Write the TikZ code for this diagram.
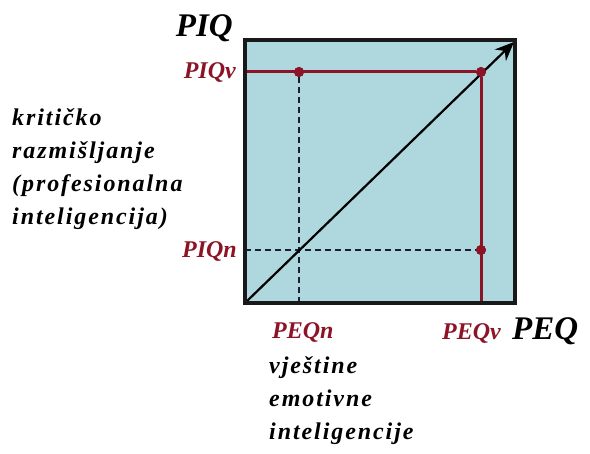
\documentclass[tikz,border=0pt]{standalone}
\usepackage{fontspec}
\setmainfont{Liberation Serif}
\newfontfamily\spacedfont[LetterSpace=8]{Liberation Serif}
\usetikzlibrary{positioning,arrows.meta}
\definecolor{tcyan}{RGB}{174,216,222}
\definecolor{tdarkred}{RGB}{140,20,38}
\definecolor{tnavy}{RGB}{30,30,50}

\begin{document}
\begin{tikzpicture}[
    x=1pt, y=-1pt,
    axislbl/.style={font=\fontsize{33}{33}\selectfont\bfseries\itshape, inner sep=0pt},
    vallbl/.style={font=\fontsize{24}{24}\selectfont\bfseries\itshape, text=tdarkred, inner sep=0pt},
    desc/.style={font=\spacedfont\fontsize{24}{33}\selectfont\bfseries\itshape, align=left, inner sep=0pt},
    level/.style={draw=tdarkred, line width=3pt},
    guide/.style={draw=tnavy, line width=1.8pt, dash pattern=on 6pt off 4pt},
    dot/.style={circle, fill=tdarkred, inner sep=0pt, minimum size=10pt},
]
\useasboundingbox (0,0) rectangle (590,454);

% ---------- plot area ----------
\coordinate (o)  at (245,303);
\coordinate (tr) at (515,40);
\fill[tcyan] (o) rectangle (tr);

\coordinate (nn) at (299,250);
\node[dot] (nv) at (299,72)  {};
\node[dot] (vv) at (481,72)  {};
\node[dot] (vn) at (481,250) {};
\coordinate (tip) at (514,42);

% levels (solid) and guides (dashed)
\draw[level] (o |- vv) -- (vv) -- (vv |- o);
\draw[guide] (nv) -- (nv |- o);
\draw[guide] (o |- vn) -- (vn);

% the diagonal
\draw[line width=2.2pt, -{Stealth[length=19pt,width=16pt]}] (o) -- (tip);

\node[dot] at (nv) {};
\node[dot] at (vv) {};
\node[dot] at (vn) {};
\draw[draw=black!90, line width=3.2pt] (o) rectangle (tr);

% ---------- axis labels ----------
\node[axislbl, anchor=base east] (piq) at (233,37)  {PIQ};
\node[axislbl, anchor=base west] (peq) at (512,340) {PEQ};

\node[vallbl, anchor=base east] (piqv) at (236,79)  {PIQv};
\node[vallbl, anchor=base east] (piqn) at (237,258) {PIQn};
\node[vallbl, anchor=base west] (peqn) at (272,339) {PEQn};
\node[vallbl, anchor=base west] (peqv) at (442,340) {PEQv};

% ---------- descriptions (base = last line) ----------
\node[desc, anchor=base west] (kriticko) at (12,225)
  {kritičko\\razmišljanje\\(profesionalna\\inteligencija)};
\node[desc, anchor=base west] (vjestine) at (269,440)
  {vještine\\emotivne\\inteligencije};

\end{tikzpicture}
\end{document}
